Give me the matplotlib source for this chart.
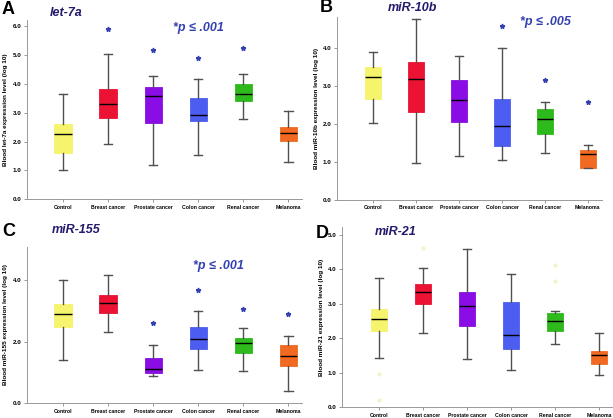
import matplotlib
matplotlib.use('Agg')
import matplotlib.pyplot as plt

plt.rcParams['font.family'] = ['Liberation Sans Narrow', 'Liberation Sans', 'DejaVu Sans']

categorias = ["Control", "Breast cancer", "Prostate cancer", "Colon cancer", "Renal cancer", "Melanoma"]
colores = ["#F6F46C", "#EC1234", "#8A0DE6", "#4C5EF2", "#2EBA1C", "#F26A22"]

# (bigote inferior, Q1, mediana, Q3, bigote superior) por categoria
let7a = [[1.00, 1.62, 2.25, 2.62, 3.65],
         [1.90, 2.80, 3.30, 3.82, 5.02],
         [1.20, 2.65, 3.57, 3.88, 4.25],
         [1.55, 2.72, 2.93, 3.52, 4.15],
         [2.77, 3.40, 3.65, 3.98, 4.35],
         [1.30, 2.02, 2.28, 2.52, 3.05]]
let7a_estrellas = [None, 5.90, 5.15, 4.90, 5.25, None]

mir10b = [[2.01, 2.64, 3.22, 3.48, 3.89],
          [0.96, 2.30, 3.18, 3.63, 4.74],
          [1.16, 2.05, 2.62, 3.15, 3.79],
          [1.04, 1.42, 1.94, 2.64, 4.00],
          [1.24, 1.72, 2.13, 2.39, 2.57],
          [0.83, 0.83, 1.20, 1.32, 1.44]]
mir10b_estrellas = [None, None, None, 4.57, 3.15, 2.57]

mir155 = [[1.42, 2.48, 2.91, 3.23, 4.00],
          [2.32, 2.92, 3.25, 3.50, 4.17],
          [0.90, 0.99, 1.10, 1.48, 1.89],
          [1.08, 1.76, 2.08, 2.46, 3.00],
          [1.04, 1.62, 1.96, 2.13, 2.45],
          [0.39, 1.22, 1.54, 1.89, 2.19]]
mir155_estrellas = [None, None, 2.62, 3.66, 3.07, 2.91]

mir21 = [[1.42, 2.21, 2.56, 2.85, 3.75],
         [2.16, 2.99, 3.33, 3.56, 4.03],
         [1.40, 2.36, 2.92, 3.35, 4.59],
         [1.09, 1.68, 2.08, 3.04, 3.86],
         [1.83, 2.21, 2.49, 2.72, 2.79],
         [0.94, 1.26, 1.50, 1.63, 2.15]]
mir21_tenues = [[0.97, 0.22], [4.61], [], [], [4.13, 3.65], []]

paneles = [
    # letra, titulo, datos, estrellas, texto p, (x, y) del texto p, ylim, yticks, posicion [l, b, w, h]
    ("A", "let-7a", let7a, let7a_estrellas, "*p ≤ .001", (3.0, 5.92), 6.2,
     [0, 1, 2, 3, 4, 5, 6], [0.044, 0.523, 0.449, 0.429], (-0.8, 5.31)),
    ("B", "miR-10b", mir10b, mir10b_estrellas, "*p ≤ .005", (4.02, 4.68), 4.8,
     [0, 1, 2, 3, 4], [0.550, 0.522, 0.432, 0.437], (-0.84, 5.33)),
    ("C", "miR-155", mir155, mir155_estrellas, "*p ≤ .001", (3.45, 4.46), 5.08,
     [0, 2, 4], [0.044, 0.035, 0.449, 0.375], (-0.8, 5.31)),
    ("D", "miR-21", mir21, None, None, None, 5.22,
     [0, 1, 2, 3, 4, 5], [0.558, 0.026, 0.442, 0.431], (-0.84, 5.32)),
]

fig = plt.figure(figsize=(6.13, 4.18), dpi=100)
azul = "#3340B0"
gris = "#505050"

for letra, titulo, datos, estrellas, texto_p, pos_p, ytop, yticks, pos, xl in paneles:
    ax = fig.add_axes(pos)
    stats = []
    for i, d in enumerate(datos):
        stats.append({"whislo": d[0], "q1": d[1], "med": d[2], "q3": d[3],
                      "whishi": d[4], "fliers": [], "label": categorias[i]})
    bp = ax.bxp(stats, positions=range(len(categorias)), widths=0.38, patch_artist=True,
                showfliers=False,
                boxprops=dict(linewidth=0.6, edgecolor="#777777"),
                medianprops=dict(color="black", linewidth=1.0),
                whiskerprops=dict(color=gris, linewidth=1.0),
                capprops=dict(color=gris, linewidth=1.0))
    for caja, c in zip(bp["boxes"], colores):
        caja.set_facecolor(c)
        caja.set_edgecolor(c)
    if estrellas is not None:
        for i, s in enumerate(estrellas):
            if s is not None:
                ax.plot(i, s, marker="*", color=azul, markersize=3.5, linestyle="none")
        ax.text(pos_p[0], pos_p[1], texto_p, color=azul, fontsize=9, fontweight="bold",
                style="italic", ha="center", va="center")
    if letra == "D":
        for i, vals in enumerate(mir21_tenues):
            for v in vals:
                ax.plot(i, v, marker="o", color="#F4F2C8", markersize=2, linestyle="none")
    ax.set_ylim(0, ytop)
    ax.set_xlim(*xl)
    ax.set_yticks(yticks)
    ax.set_yticklabels([f"{t:.1f}" for t in yticks], fontsize=4.5, fontweight="bold")
    ax.set_xticks(range(len(categorias)))
    ax.set_xticklabels(categorias, fontsize=3.7, fontweight="bold")
    ax.tick_params(axis="both", length=2.5, width=0.6, color="#888888", pad=1.5)
    for lado in ["top", "right"]:
        ax.spines[lado].set_visible(False)
    for lado in ["left", "bottom"]:
        ax.spines[lado].set_color("#999999")
        ax.spines[lado].set_linewidth(0.7)
    ax.set_ylabel(f"Blood {titulo} expression level (log 10)", fontsize=4.6, fontweight="bold",
                  labelpad=3)
    ax.set_facecolor("white")

# letras y titulos de los paneles
fig.text(0.003, 0.978, "A", fontsize=13, fontweight="bold", va="center", ha="left")
fig.text(0.522, 0.982, "B", fontsize=13, fontweight="bold", va="center", ha="left")
fig.text(0.003, 0.445, "C", fontsize=13, fontweight="bold", va="center", ha="left")
fig.text(0.515, 0.442, "D", fontsize=13, fontweight="bold", va="center", ha="left")

navy = "#221A6A"
fig.text(0.082, 0.968, "let-7a", fontsize=9, fontweight="bold", style="italic", color=navy, va="center")
fig.text(0.632, 0.982, "miR-10b", fontsize=9, fontweight="bold", style="italic", color=navy, va="center")
fig.text(0.084, 0.450, "miR-155", fontsize=9, fontweight="bold", style="italic", color=navy, va="center")
fig.text(0.612, 0.445, "miR-21", fontsize=9, fontweight="bold", style="italic", color=navy, va="center")

plt.savefig("out.png", dpi=100, facecolor="white")
plt.close()
